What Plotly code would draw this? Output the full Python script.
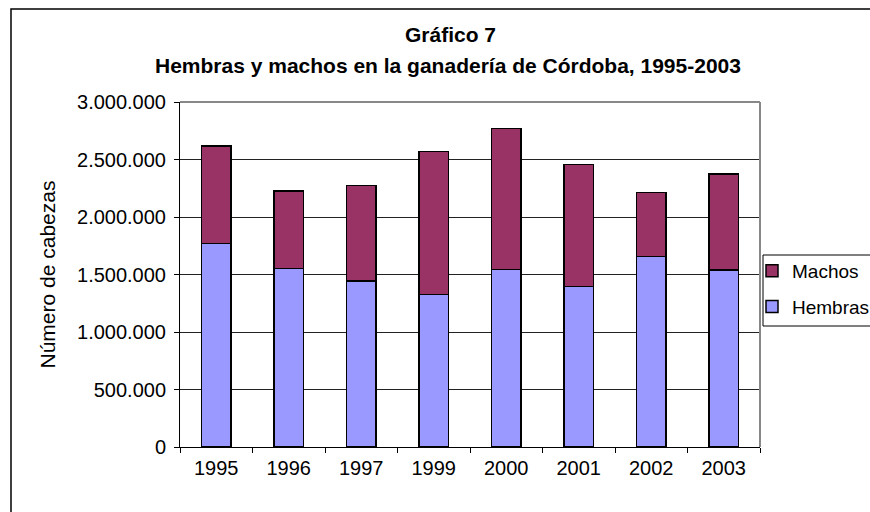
import plotly.graph_objects as go

years = ["1995", "1996", "1997", "1999", "2000", "2001", "2002", "2003"]
hembras = [1768000, 1554000, 1443000, 1328000, 1545000, 1394000, 1655000, 1539000]
machos = [849000, 672000, 833000, 1240000, 1223000, 1064000, 557000, 835000]
y_ticks = [0, 500000, 1000000, 1500000, 2000000, 2500000, 3000000]

font = "Liberation Sans, Arial, sans-serif"

fig = go.Figure()
fig.add_trace(go.Bar(x=years, y=hembras, name="Hembras", legendgroup="h", legendrank=2,
                     marker=dict(color="#9999FF", line=dict(color="black", width=1.5)),
                     width=0.41))
fig.add_trace(go.Bar(x=years, y=machos, name="Machos", legendgroup="m", legendrank=1,
                     marker=dict(color="#993366", line=dict(color="black", width=1.5)),
                     width=0.41))

L, R, T, B = 180, 110, 102, 65
W, H = 870, 512
pw, ph = W - L - R, H - T - B

def px(x):
    return (x - L) / pw

def py(y):
    return (H - B - y) / ph

fig.update_layout(
    width=W, height=H,
    margin=dict(l=L, r=R, t=T, b=B, pad=0, autoexpand=False),
    barmode="stack",
    separators=",.",
    paper_bgcolor="white", plot_bgcolor="white",
    font=dict(family=font, size=20, color="black"),
    showlegend=True,
    legend=dict(x=px(752), y=py(252), xanchor="left", yanchor="top",
                borderwidth=0, bgcolor="rgba(0,0,0,0)",
                traceorder="grouped", tracegroupgap=8,
                font=dict(size=19), itemwidth=30),
    xaxis=dict(type="category", showgrid=False, showline=True, linecolor="black",
               linewidth=1, ticks="outside", tickson="boundaries", ticklen=5,
               tickcolor="black", mirror=False, range=[-0.5, 7.5], automargin=False,
               ticklabelstandoff=3),
    yaxis=dict(range=[0, 3000000], tickvals=y_ticks, tickformat=",d",
               showgrid=True, gridcolor="#222", gridwidth=1,
               showline=True, linecolor="black", linewidth=1,
               ticks="outside", ticklen=5, tickcolor="black", zeroline=False,
               automargin=False, ticklabelstandoff=4),
    annotations=[
        dict(text="<b>Gráfico 7</b>", x=px(450), y=py(35), xref="paper", yref="paper",
             showarrow=False, font=dict(size=21), xanchor="center", yanchor="middle"),
        dict(text="<b>Hembras y machos en la ganadería de Córdoba, 1995-2003</b>",
             x=px(448), y=py(65), xref="paper", yref="paper",
             showarrow=False, font=dict(size=21), xanchor="center", yanchor="middle"),
        dict(text="Número de cabezas", x=px(47), y=0.5, xref="paper", yref="paper",
             showarrow=False, textangle=-90, font=dict(size=21),
             xanchor="center", yanchor="middle"),
    ],
    shapes=[
        dict(type="rect", xref="paper", yref="paper", x0=px(11), x1=px(880),
             y0=py(530), y1=py(9), line=dict(color="black", width=1.5)),
        dict(type="line", xref="paper", yref="paper", x0=1, x1=1, y0=0, y1=1,
             line=dict(color="#888", width=2)),
        dict(type="line", xref="paper", yref="paper", x0=0, x1=1, y0=1, y1=1,
             line=dict(color="#888", width=2)),
        dict(type="rect", xref="paper", yref="paper", x0=px(763), x1=px(880),
             y0=py(326), y1=py(255), line=dict(color="black", width=1)),
    ],
)

fig.write_html("out.html",
               config={"responsive": False, "displayModeBar": False},
               post_script="document.body.style.margin='0';document.body.style.overflow='hidden';")
